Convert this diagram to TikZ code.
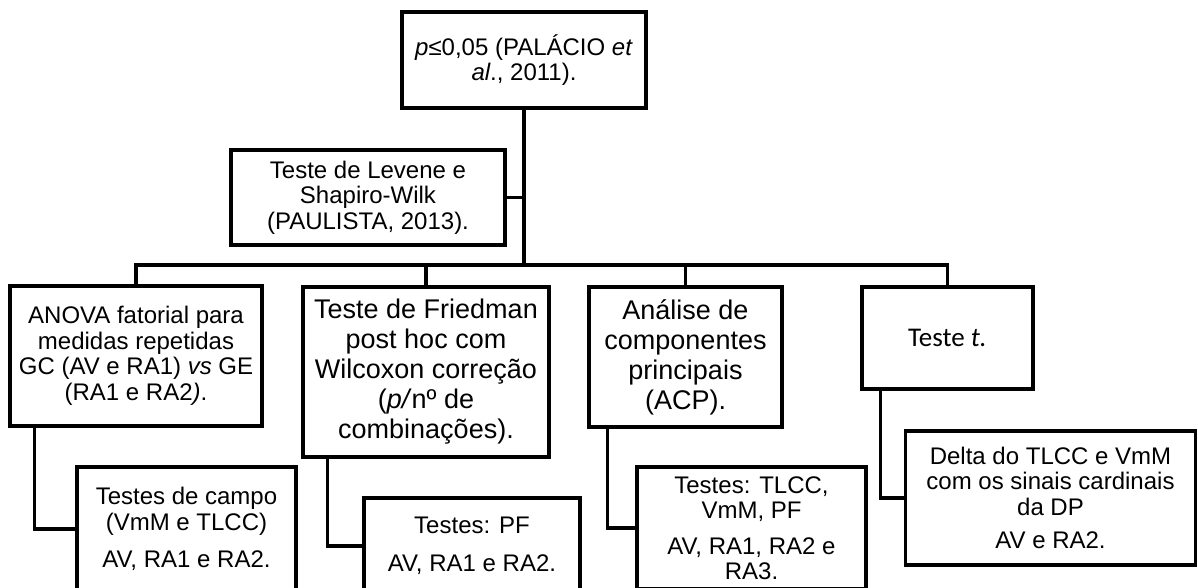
\documentclass[tikz,border=0pt]{standalone}
\usepackage{fontspec}
\setmainfont{Liberation Sans}
\newfontfamily\calib{Carlito}
\begin{document}
\begin{tikzpicture}[x=1pt,y=-1pt,
  box/.style={draw, line width=3.5pt, align=center, inner sep=0pt, fill=white,
    font=\fontsize{24}{25.5}\selectfont},
  bigtext/.style={font=\fontsize{27}{30}\selectfont},
  conn/.style={line width=3.5pt}]
\useasboundingbox (0,0) rectangle (1198,587);
\clip (0,0) rectangle (1198,587);
\fill[white] (0,0) rectangle (1198,587);

\node[box, minimum width=244pt, minimum height=96pt] (top) at (524,60)
  {\textit{p}≤0,05 (PALÁCIO \textit{et}\\\textit{al}., 2011).};
\node[box, minimum width=274pt, minimum height=95pt] (lev) at (368,197.5)
  {Teste de Levene e\\Shapiro-Wilk\\(PAULISTA, 2013).};
\node[box, minimum width=252pt, minimum height=140pt] (anova) at (136,356)
  {ANOVA fatorial para\\medidas repetidas\\GC (AV e RA1) \textit{vs} GE\\(RA1 e RA2\textit{)}.};
\node[box, bigtext, minimum width=246pt, minimum height=170pt] (fried) at (426,372)
  {Teste de Friedman\\post hoc com\\Wilcoxon correção\\(\textit{p/}nº de\\combinações).};
\node[box, bigtext, minimum width=193pt, minimum height=140pt] (acp) at (685.5,357)
  {Análise de\\componentes\\principais\\(ACP).};
\node[box, minimum width=171pt, minimum height=102pt, font=\calib\fontsize{27}{30}\selectfont] (tt) at (947.5,338)
  {Teste \textit{t.}};

\node[box, minimum width=219pt, minimum height=124pt] (campo) at (186.5,529)
  {Testes de campo\\(VmM e TLCC)\\[12pt]AV, RA1 e RA2.};
\node[box, minimum width=216pt, minimum height=96pt] (pf) at (472,546)
  {Testes: PF\\[12pt]AV, RA1 e RA2.};
\node[box, minimum width=229pt, minimum height=122pt] (tlcc) at (751.5,528)
  {Testes: TLCC,\\VmM, PF\\[10pt]AV, RA1, RA2 e\\RA3.};
\node[box, minimum width=290pt, minimum height=134pt] (delta) at (1050.5,498)
  {Delta do TLCC e VmM\\com os sinais cardinais\\da DP\\[8pt]AV e RA2.};

\coordinate (bar) at (0,265);
\draw[conn] (anova.north) -- (anova.north |- bar) -- (tt.north |- bar) -- (tt.north);
\draw[conn] (top.south) -- (top.south |- bar);
\draw[conn] (fried.north) -- (fried.north |- bar);
\draw[conn] (acp.north) -- (acp.north |- bar);
\draw[conn] (lev.east) -- (lev.east -| top.south);

\coordinate (a1) at ([xshift=26pt]anova.south west);
\coordinate (f1) at ([xshift=26pt]fried.south west);
\coordinate (c1) at ([xshift=20pt]acp.south west);
\coordinate (t1) at ([xshift=20pt]tt.south west);
\draw[conn] (a1) |- (campo.west);
\draw[conn] (f1) |- (pf.west);
\draw[conn] (c1) |- (tlcc.west);
\draw[conn] (t1) |- (delta.west);
\end{tikzpicture}
\end{document}
